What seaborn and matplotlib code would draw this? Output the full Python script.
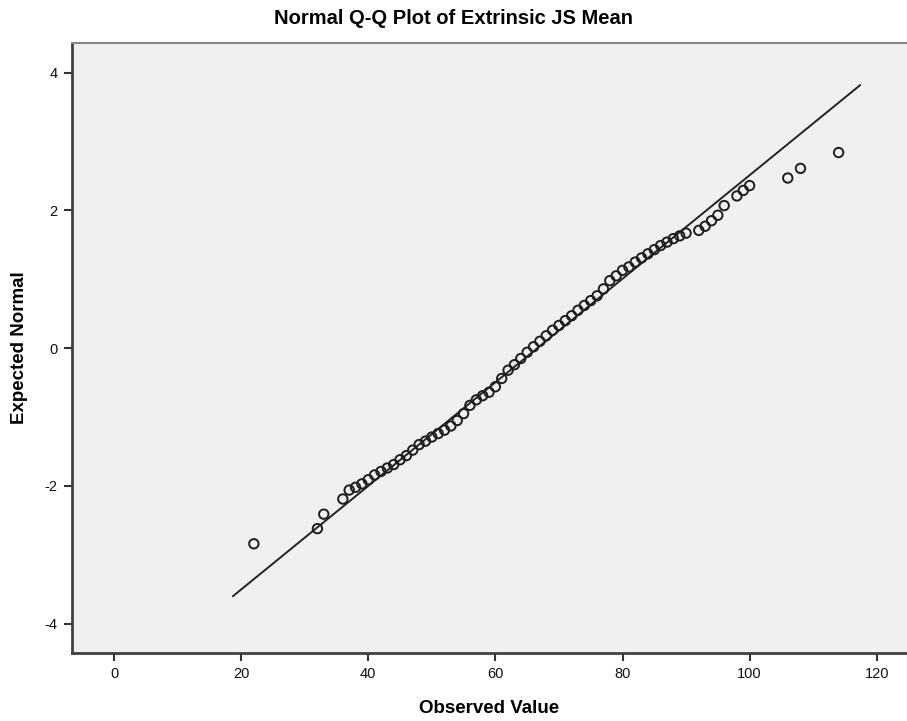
import numpy as np
import pandas as pd
import matplotlib
matplotlib.use("Agg")
import matplotlib.pyplot as plt
import seaborn as sns

# ---- data ----
observed = [22, 32, 33, 36, 37, 38, 39, 40, 41, 42, 43, 44, 45, 46, 47, 48, 49,
            50, 51, 52, 53, 54, 55, 56, 57, 58, 59, 60, 61, 62, 63, 64, 65, 66,
            67, 68, 69, 70, 71, 72, 73, 74, 75, 76, 77, 78, 79, 80, 81, 82, 83,
            84, 85, 86, 87, 88, 89, 90, 92, 93, 94, 95, 96, 98, 99, 100, 106,
            108, 114]
expected = [-2.84, -2.62, -2.41, -2.19, -2.06, -2.02, -1.97, -1.91, -1.84,
            -1.79, -1.74, -1.69, -1.62, -1.56, -1.48, -1.40, -1.35, -1.29,
            -1.24, -1.19, -1.13, -1.05, -0.95, -0.83, -0.75, -0.69, -0.64,
            -0.56, -0.44, -0.32, -0.24, -0.15, -0.06, 0.02, 0.10, 0.18, 0.26,
            0.33, 0.40, 0.47, 0.55, 0.62, 0.69, 0.76, 0.86, 0.98, 1.05, 1.13,
            1.18, 1.25, 1.31, 1.37, 1.43, 1.49, 1.54, 1.59, 1.63, 1.67, 1.71,
            1.77, 1.85, 1.93, 2.07, 2.21, 2.29, 2.36, 2.47, 2.61, 2.84]
# reference line (normal with estimated mean / sd) over its drawn range
line_mean = 66.6
line_sd = 13.3
line_x = [18.7, 117.4]
x_ticks = [0, 20, 40, 60, 80, 100, 120]
y_ticks = [-4, -2, 0, 2, 4]

points = pd.DataFrame({"Observed": observed, "Expected": expected})
line_df = pd.DataFrame({"Observed": line_x,
                        "Expected": [(v - line_mean) / line_sd for v in line_x]})

sns.set_style("white")
plt.rcParams["font.family"] = ["Liberation Sans", "DejaVu Sans"]
plt.rcParams["axes.unicode_minus"] = False

fig = plt.figure(figsize=(9.07, 7.21), dpi=100)
ax = fig.add_axes([0.0791, 0.0939, 0.9209, 0.8469])
ax.set_facecolor("#F0F0F0")

sns.lineplot(data=line_df, x="Observed", y="Expected", ax=ax,
             color="#222222", linewidth=1.4, sort=False)
sns.scatterplot(data=points, x="Observed", y="Expected", ax=ax,
                marker="o", s=46, facecolor="none", edgecolor="#1e1e1e",
                linewidth=1.4, zorder=3)

ax.set_xlim(-6.65, 124.76)
ax.set_ylim(-4.43, 4.435)
ax.set_xticks(x_ticks)
ax.set_yticks(y_ticks)
ax.tick_params(axis="both", direction="out", length=6, width=1.5,
               color="#333333", labelsize=10.5, labelcolor="#111111", pad=4,
               bottom=True, left=True)

for side in ["left", "bottom"]:
    ax.spines[side].set_color("#404040")
    ax.spines[side].set_linewidth(2.0)
ax.spines["top"].set_color("#888888")
ax.spines["top"].set_linewidth(1.5)
ax.spines["right"].set_visible(False)

ax.set_xlabel("Observed Value", fontsize=13.5, fontweight="bold", color="black")
ax.set_ylabel("Expected Normal", fontsize=13.5, fontweight="bold", color="black")
ax.xaxis.set_label_coords(0.5, -0.077)
ax.yaxis.set_label_coords(-0.052, 0.5)
fig.text(0.5, 0.975, "Normal Q-Q Plot of Extrinsic JS Mean", ha="center",
         va="center", fontsize=14.5, fontweight="bold", color="black")

fig.savefig("out.png", dpi=100, facecolor="white")
